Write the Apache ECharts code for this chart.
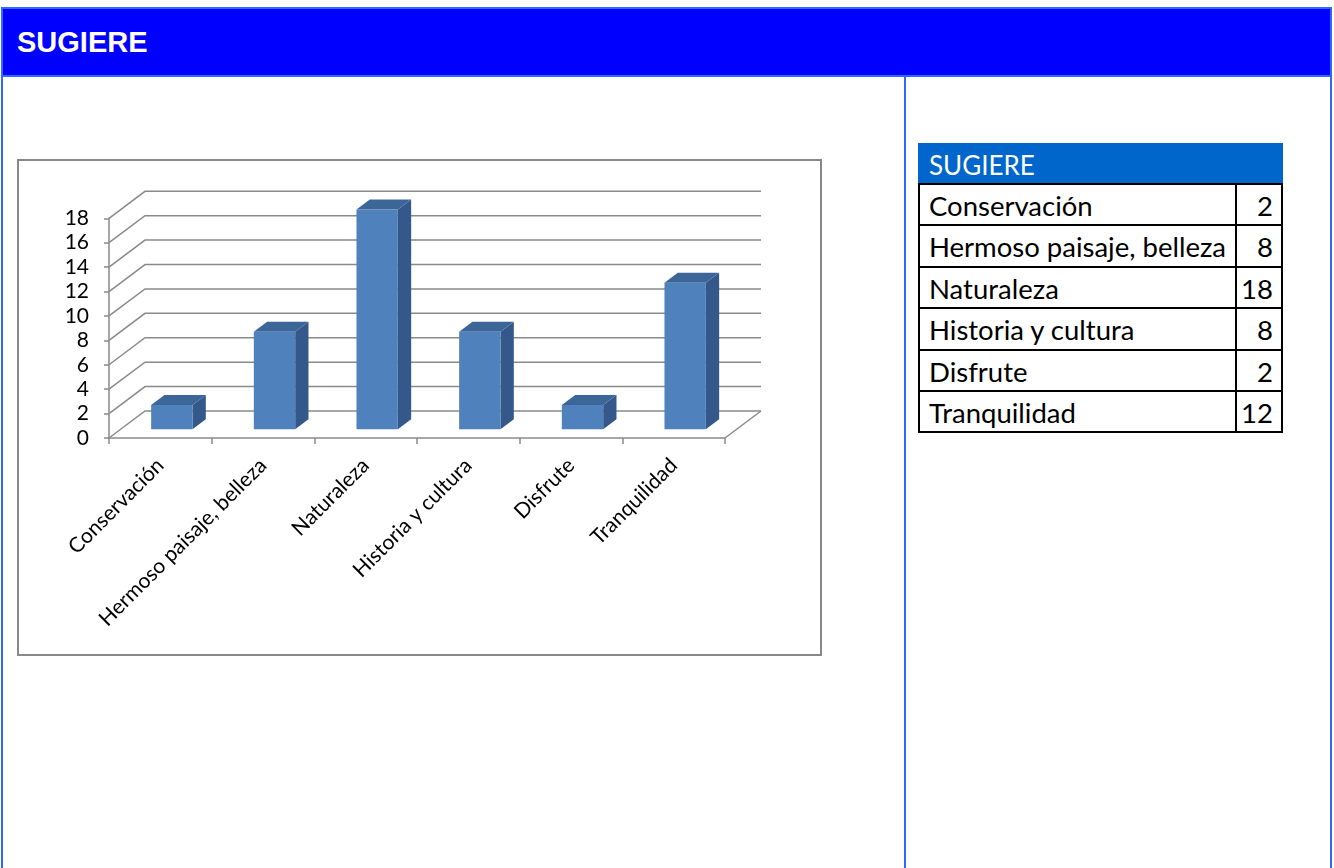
<!DOCTYPE html>
<html>
<head>
<meta charset="utf-8">
<script src="https://cdn.jsdelivr.net/npm/echarts@6/dist/echarts.min.js"></script>
<style>
  html, body { margin: 0; padding: 0; background: #fff; width: 1334px; height: 868px; overflow: hidden; }
  #frame { position: absolute; left: 1px; top: 7px; width: 1331px; height: 880px; border: 2px solid #3366FF; box-sizing: border-box; }
  #header { position: absolute; left: 3px; top: 9px; width: 1327px; height: 66px; background: #0000FF; border-bottom: 2px solid #3366FF; }
  #title { position: absolute; left: 14px; top: 18.5px; font: bold 29px/29px "Liberation Sans", Arial, sans-serif; color: #fff; }
  #vline { position: absolute; left: 904px; top: 77px; width: 2px; height: 800px; background: #3366FF; }
  #chartBox { position: absolute; left: 17px; top: 159px; width: 805px; height: 497px; border: 2px solid #888; box-sizing: border-box; background: #fff; }
  #chart { position: absolute; left: 0; top: 0; width: 801px; height: 493px; }
  #tbl { position: absolute; left: 918px; top: 143px; font-family: Lato, "Open Sans", sans-serif; font-size: 27.5px; }
  .th { position: absolute; left: 0; top: 0; width: 365px; height: 41px; background: #0066CC; color: #fff; box-sizing: border-box; padding-left: 11px; line-height: 44px; font-size: 26px; }
  .cell { position: absolute; box-sizing: border-box; border: 2px solid #000; color: #000; line-height: 41px; background: #fff; }
</style>
</head>
<body>
<div id="frame"></div>
<div id="header"><div id="title"></div></div>
<div id="vline"></div>
<div id="chartBox"><div id="chart"></div></div>
<div id="tbl"></div>
<script>
// ---- data ----
const titleText = "SUGIERE";
const categories = ["Conservación", "Hermoso paisaje, belleza", "Naturaleza", "Historia y cultura", "Disfrute", "Tranquilidad"];
const values = [2, 8, 18, 8, 2, 12];
const yTicks = [0, 2, 4, 6, 8, 10, 12, 14, 16, 18];

document.getElementById('title').textContent = titleText;

// ---- table ----
const tbl = document.getElementById('tbl');
const th = document.createElement('div');
th.className = 'th';
th.textContent = titleText;
tbl.appendChild(th);
const rowH = 41.4;
categories.forEach((c, i) => {
  const top = 40 + i * rowH;
  const a = document.createElement('div');
  a.className = 'cell';
  a.style.left = '0px'; a.style.top = top + 'px'; a.style.width = '319px'; a.style.height = (rowH + 2) + 'px';
  a.style.paddingLeft = '9px';
  a.textContent = c;
  const b = document.createElement('div');
  b.className = 'cell';
  b.style.left = '317px'; b.style.top = top + 'px'; b.style.width = '48px'; b.style.height = (rowH + 2) + 'px';
  b.style.textAlign = 'right'; b.style.paddingRight = '8px';
  b.textContent = values[i];
  tbl.appendChild(a); tbl.appendChild(b);
});

// ---- chart ----
const DX = 36, DY = -27;          // depth of the 3D box
const BAR_OFF_X = 11.5, BAR_OFF_Y = -8.7; // bar front face position in depth
const BAR_DX = 13.3, BAR_DY = -10;         // bar own depth
const GRID_COLOR = '#8a8a8a';
const chart = echarts.init(document.getElementById('chart'), null, { renderer: 'canvas' });

const option = {
  animation: false,
  backgroundColor: 'transparent',
  grid: { left: 90, top: 57.3, width: 616, height: 219.7 },
  xAxis: {
    type: 'category',
    data: categories,
    boundaryGap: true,
    axisLine: { lineStyle: { color: GRID_COLOR, width: 1.5 } },
    axisTick: { show: true, length: 6, lineStyle: { color: GRID_COLOR, width: 1.5 } },
    axisLabel: { rotate: 45, interval: 0, margin: 24, color: '#000', fontFamily: 'Lato', fontSize: 21 },
    splitLine: { show: false }
  },
  yAxis: {
    type: 'value',
    min: 0, max: 18, interval: 2,
    axisLine: { show: true, lineStyle: { color: GRID_COLOR, width: 1.5 } },
    axisTick: { show: true, length: 5, lineStyle: { color: GRID_COLOR, width: 1.5 } },
    axisLabel: { margin: 20, color: '#000', fontFamily: 'Lato', fontSize: 21 },
    splitLine: { show: false }
  },
  series: [
    {
      type: 'custom',
      name: 'grid3d',
      silent: true,
      z: 1,
      data: yTicks.map(v => [0, v]),
      renderItem: function (params, api) {
        const cs = params.coordSys;
        const y = api.coord([0, api.value(1)])[1];
        const x0 = cs.x, x1 = cs.x + cs.width;
        const children = [
          { type: 'polyline', shape: { points: [[x0, y], [x0 + DX, y + DY], [x1 + DX, y + DY]] },
            style: { stroke: GRID_COLOR, lineWidth: 1.5, fill: null } }
        ];
        if (api.value(1) === 0) {
          children.push({ type: 'line', shape: { x1: x1, y1: y, x2: x1 + DX, y2: y + DY },
            style: { stroke: GRID_COLOR, lineWidth: 1.5 } });
        }
        return { type: 'group', children: children };
      }
    },
    {
      type: 'custom',
      name: 'bars',
      z: 2,
      data: values.map((v, i) => [i, v]),
      renderItem: function (params, api) {
        const top = api.coord([api.value(0), api.value(1)]);
        const base = api.coord([api.value(0), 0]);
        const band = api.size([1, 0])[0];
        const w = band * 0.403;
        const cx = top[0] + BAR_OFF_X;
        const l = cx - w / 2, r = cx + w / 2;
        const b = base[1] + BAR_OFF_Y, t = top[1] + BAR_OFF_Y;
        return {
          type: 'group',
          children: [
            { type: 'polygon', shape: { points: [[r, b], [r + BAR_DX, b + BAR_DY], [r + BAR_DX, t + BAR_DY], [r, t]] },
              style: { fill: '#35588A' } },
            { type: 'polygon', shape: { points: [[l, t], [l + BAR_DX, t + BAR_DY], [r + BAR_DX, t + BAR_DY], [r, t]] },
              style: { fill: '#3C6698' } },
            { type: 'rect', shape: { x: l, y: t, width: w, height: b - t },
              style: { fill: '#4F81BD' } }
          ]
        };
      }
    }
  ]
};
chart.setOption(option);
</script>
</body>
</html>
